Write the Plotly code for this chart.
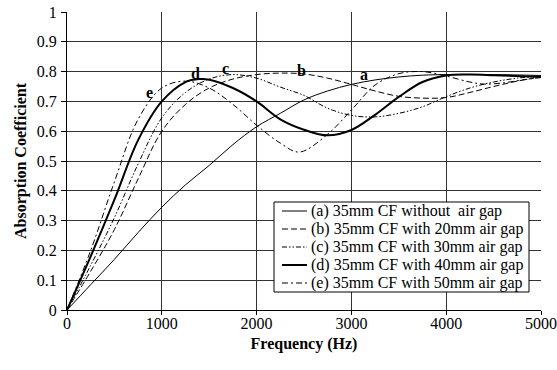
import plotly.graph_objects as go

freq_a = [0, 250, 500, 750, 1000, 1250, 1500, 1750, 2000, 2250, 2500, 2750, 3000, 3250, 3500, 3750, 4000, 4500, 5000]
abs_a = [0, 0.085, 0.17, 0.26, 0.345, 0.42, 0.485, 0.555, 0.615, 0.66, 0.705, 0.735, 0.757, 0.772, 0.782, 0.788, 0.79, 0.79, 0.787]

freq_b = [0, 250, 500, 750, 1000, 1250, 1500, 1750, 2000, 2250, 2500, 2750, 3000, 3250, 3500, 3750, 4000, 4250, 4500, 4750, 5000]
abs_b = [0, 0.13, 0.27, 0.44, 0.6, 0.69, 0.745, 0.775, 0.79, 0.795, 0.792, 0.778, 0.757, 0.735, 0.717, 0.711, 0.713, 0.73, 0.75, 0.768, 0.782]

freq_c = [0, 250, 500, 750, 1000, 1250, 1500, 1750, 2000, 2250, 2500, 2750, 3000, 3250, 3500, 3750, 4000, 4250, 4500, 4750, 5000]
abs_c = [0, 0.15, 0.31, 0.49, 0.645, 0.73, 0.775, 0.79, 0.778, 0.748, 0.72, 0.677, 0.653, 0.648, 0.66, 0.682, 0.716, 0.745, 0.765, 0.778, 0.785]

freq_d = [0, 250, 500, 750, 1000, 1250, 1400, 1500, 1750, 2000, 2250, 2500, 2750, 3000, 3250, 3500, 3750, 4000, 4250, 4500, 5000]
abs_d = [0, 0.18, 0.37, 0.57, 0.70, 0.765, 0.775, 0.773, 0.745, 0.70, 0.64, 0.605, 0.586, 0.604, 0.655, 0.715, 0.765, 0.787, 0.79, 0.788, 0.782]

freq_e = [0, 250, 500, 750, 1000, 1250, 1500, 1750, 2000, 2250, 2450, 2750, 3000, 3250, 3500, 3750, 4000, 4250, 4400, 4600, 4800, 5000]
abs_e = [0, 0.2, 0.43, 0.64, 0.745, 0.768, 0.745, 0.69, 0.62, 0.56, 0.53, 0.59, 0.671, 0.755, 0.793, 0.80, 0.785, 0.765, 0.758, 0.762, 0.772, 0.78]

series_names = [
    "(a) 35mm CF without&nbsp; air gap",
    "(b) 35mm CF with 20mm air gap",
    "(c) 35mm CF with 30mm air gap",
    "(d) 35mm CF with 40mm air gap",
    "(e) 35mm CF with 50mm air gap",
]

curve_labels = ["a", "b", "c", "d", "e"]
label_freq = [3128, 2478, 1668, 1352, 869]
label_abs = [0.789, 0.805, 0.809, 0.792, 0.730]

x_ticks = [0, 1000, 2000, 3000, 4000, 5000]

FONT = "Liberation Serif"

W, H = 557, 370
ML, MR, MT, MB = 67, 16, 12, 60
PW, PH = W - ML - MR, H - MT - MB

styles = [
    dict(width=1, dash="solid"),
    dict(width=1, dash="6px,3px"),
    dict(width=1, dash="5px,2px,1.5px,2px,1.5px,2px"),
    dict(width=2, dash="solid"),
    dict(width=1, dash="6px,3px,2px,3px"),
]

fig = go.Figure()
data = [(freq_a, abs_a), (freq_b, abs_b), (freq_c, abs_c), (freq_d, abs_d), (freq_e, abs_e)]
for (xs, ys), name, st in zip(data, series_names, styles):
    fig.add_trace(go.Scatter(
        x=xs, y=ys, mode="lines", name=name, showlegend=False,
        line=dict(color="black", width=st["width"], dash=st["dash"], shape="spline", smoothing=1.0),
    ))

for t, fx, ay in zip(curve_labels, label_freq, label_abs):
    fig.add_annotation(x=fx, y=ay, text=t, showarrow=False,
                       font=dict(family=FONT, size=16, color="black", weight="bold"),
                       xanchor="center", yanchor="middle")

# Legend box (drawn in paper coordinates, pixel layout converted)
def px_x(p):
    return (p - ML) / PW

def px_y(p):
    return (H - MB - p) / PH

LEG_L, LEG_R, LEG_T, LEG_B = 274, 529, 202, 292
ROW_H = (LEG_B - LEG_T) / 5
fig.add_shape(type="rect", xref="paper", yref="paper",
              x0=px_x(LEG_L), x1=px_x(LEG_R), y0=px_y(LEG_B), y1=px_y(LEG_T),
              line=dict(color="black", width=1), fillcolor="white", layer="above")
for i, (name, st) in enumerate(zip(series_names, styles)):
    yc = LEG_T + ROW_H * (i + 0.5)
    fig.add_shape(type="line", xref="paper", yref="paper",
                  x0=px_x(LEG_L + 8), x1=px_x(LEG_L + 33), y0=px_y(yc), y1=px_y(yc),
                  line=dict(color="black", width=st["width"], dash=st["dash"]), layer="above")
    fig.add_annotation(xref="paper", yref="paper", x=px_x(LEG_L + 35), y=px_y(yc),
                       text=name, showarrow=False, xanchor="left", yanchor="middle",
                       font=dict(family=FONT, size=16, color="black"))

fig.update_layout(
    width=W, height=H,
    margin=dict(l=ML, r=MR, t=MT, b=MB),
    paper_bgcolor="white", plot_bgcolor="white",
    font=dict(family=FONT, size=16, color="black"),
    showlegend=False,
)

fig.update_xaxes(
    range=[0, 5000], tickvals=x_ticks, ticktext=[str(v) for v in x_ticks],
    showgrid=True, gridcolor="#333333", gridwidth=1,
    showline=True, linecolor="black", linewidth=1,
    ticks="outside", ticklen=4, tickcolor="black",
    zeroline=False, automargin=False, ticklabelstandoff=-5,
    tickfont=dict(family=FONT, size=16),
    title=dict(text="Frequency (Hz)", font=dict(family=FONT, size=16, weight="bold"), standoff=6),
)
fig.update_yaxes(
    range=[0, 1], dtick=0.1,
    showgrid=True, gridcolor="#333333", gridwidth=1,
    showline=True, linecolor="black", linewidth=1,
    ticks="outside", ticklen=5, tickcolor="black",
    zeroline=False, ticklabelstandoff=1, automargin=False,
    tickfont=dict(family=FONT, size=16),
    title=dict(text="Absorption Coefficient", font=dict(family=FONT, size=16, weight="bold"), standoff=6),
)

fig.write_html("out.html")
